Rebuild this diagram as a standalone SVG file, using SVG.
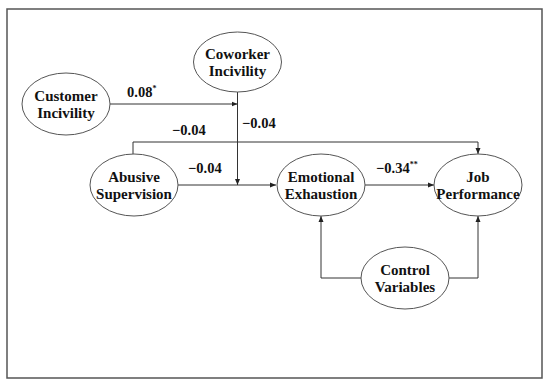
<svg xmlns="http://www.w3.org/2000/svg" width="550" height="386" viewBox="0 0 550 386">
<style>
.node ellipse{fill:#fff;stroke:#555;stroke-width:1}
.node text{font-family:'Liberation Serif','Times New Roman',serif;font-weight:bold;font-size:15px;fill:#111;text-anchor:middle}
.conn path{fill:none;stroke:#333;stroke-width:1}
.lbl{font-family:'Liberation Serif','Times New Roman',serif;font-weight:bold;font-size:14.5px;fill:#111}
.sup{font-size:8px}
</style>
<defs>
<marker id="ah" markerUnits="userSpaceOnUse" markerWidth="6" markerHeight="6" refX="6" refY="3" orient="auto">
<path d="M0,0.5 L6,3 L0,5.5 z" fill="#222"/>
</marker>
</defs>
<rect x="7" y="9" width="535" height="369" fill="#fff" stroke="#555" stroke-width="1.5"/>
<g id="connectors" class="conn">
<path d="M110,104 H237.5" marker-end="url(#ah)"/>
<path d="M237.5,92 V185" marker-end="url(#ah)"/>
<path d="M178,185 H276" marker-end="url(#ah)"/>
<path d="M133,154 V142 H478 V154" marker-end="url(#ah)"/>
<path d="M365,185 H434" marker-end="url(#ah)"/>
<path d="M361,278 H321 V216" marker-end="url(#ah)"/>
<path d="M449,278 H478 V216" marker-end="url(#ah)"/>
</g>
<g id="labels">
<text class="lbl" x="127" y="97">0.08<tspan class="sup" dy="-6">*</tspan></text>
<text class="lbl" x="242" y="128">−0.04</text>
<text class="lbl" x="172" y="135">−0.04</text>
<text class="lbl" x="188" y="173">−0.04</text>
<text class="lbl" x="376" y="173">−0.34<tspan class="sup" dy="-6">**</tspan></text>
</g>
<g id="coworker" class="node">
<ellipse cx="237.5" cy="62" rx="44" ry="30"/>
<text x="237.5" y="58.5">Coworker</text>
<text x="237.5" y="75.5">Incivility</text>
</g>
<g id="customer" class="node">
<ellipse cx="66" cy="104" rx="44" ry="31"/>
<text x="66" y="101">Customer</text>
<text x="66" y="118">Incivility</text>
</g>
<g id="abusive" class="node">
<ellipse cx="134" cy="185" rx="44" ry="31"/>
<text x="134" y="182">Abusive</text>
<text x="134" y="199">Supervision</text>
</g>
<g id="emotional" class="node">
<ellipse cx="321" cy="185" rx="44" ry="31"/>
<text x="321" y="182">Emotional</text>
<text x="321" y="199">Exhaustion</text>
</g>
<g id="job" class="node">
<ellipse cx="478" cy="185" rx="44" ry="31"/>
<text x="478" y="182">Job</text>
<text x="478" y="199">Performance</text>
</g>
<g id="control" class="node">
<ellipse cx="405" cy="278" rx="44" ry="31"/>
<text x="405" y="274.5">Control</text>
<text x="405" y="291.5">Variables</text>
</g>
</svg>
